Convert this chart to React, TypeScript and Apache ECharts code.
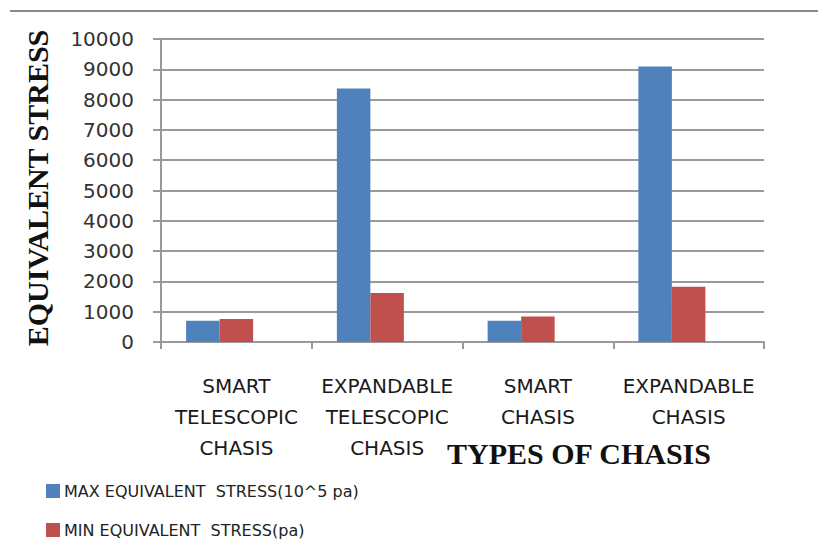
import React, { useEffect, useRef } from "react";
import * as echarts from "echarts";

const categories = [
  "SMART\nTELESCOPIC\nCHASIS",
  "EXPANDABLE\nTELESCOPIC\nCHASIS",
  "SMART\nCHASIS",
  "EXPANDABLE\nCHASIS",
];
const maxStress = [700, 8370, 700, 9090];
const minStress = [760, 1620, 840, 1820];
const emptySlot = [null, null, null, null];
const seriesNames = ["MAX EQUIVALENT  STRESS(10^5 pa)", "MIN EQUIVALENT  STRESS(pa)"];
const yTitle = "EQUIVALENT STRESS";
const xTitle = "TYPES OF CHASIS";

export default function App() {
  const ref = useRef<HTMLDivElement>(null);
  useEffect(() => {
    if (!ref.current) return;
    const chart = echarts.init(ref.current, null, { renderer: "svg" });
    const gridColor = "#9a9a9a";
    chart.setOption({
      animation: false,
      backgroundColor: "#ffffff",
      grid: { left: 161, right: 54, top: 39, bottom: 205, containLabel: false },
      legend: {
        orient: "vertical",
        left: 46,
        top: 483,
        padding: 0,
        itemWidth: 14,
        itemHeight: 14,
        itemGap: 23,
        icon: "rect",
        data: seriesNames,
        textStyle: { fontFamily: "DejaVu Sans", fontSize: 16, color: "#222", padding: [0, 0, 0, -1] },
      },
      xAxis: {
        type: "category",
        data: categories,
        axisLine: { lineStyle: { color: gridColor, width: 2 } },
        axisTick: { show: true, length: 7, lineStyle: { color: gridColor, width: 2 } },
        axisLabel: {
          margin: 28,
          fontFamily: "DejaVu Sans",
          fontSize: 20,
          lineHeight: 31,
          color: "#1a1a1a",
          interval: 0,
        },
      },
      yAxis: {
        type: "value",
        min: 0,
        max: 10000,
        interval: 1000,
        axisLine: { show: true, lineStyle: { color: gridColor, width: 2 } },
        axisTick: { show: true, length: 8, lineStyle: { color: gridColor, width: 2 } },
        splitLine: { show: true, lineStyle: { color: gridColor, width: 2 } },
        axisLabel: {
          margin: 27,
          fontFamily: "DejaVu Sans",
          fontSize: 20,
          color: "#333",
          formatter: (v: number) => String(v),
        },
      },
      series: [
        {
          name: seriesNames[0],
          type: "bar",
          data: maxStress,
          barWidth: 33.5,
          barGap: "0%",
          itemStyle: { color: "#4F81BD" },
        },
        {
          name: seriesNames[1],
          type: "bar",
          data: minStress,
          barWidth: 33.5,
          barGap: "0%",
          itemStyle: { color: "#C0504D" },
        },
        {
          name: "",
          type: "bar",
          data: emptySlot,
          barWidth: 33.5,
          barGap: "0%",
          itemStyle: { color: "#9BBB59" },
        },
      ],
      graphic: [
        {
          type: "line",
          shape: { x1: 10, y1: 11, x2: 818, y2: 11 },
          style: { stroke: "#8a8a8a", lineWidth: 2 },
        },
        {
          type: "text",
          x: 37,
          y: 188,
          rotation: Math.PI / 2,
          style: {
            text: yTitle,
            fontFamily: "Liberation Serif",
            fontWeight: "bold",
            fontSize: 30,
            fill: "#111",
            align: "center",
            verticalAlign: "middle",
          },
        },
        {
          type: "text",
          x: 447,
          y: 453,
          style: {
            text: xTitle,
            fontFamily: "Liberation Serif",
            fontWeight: "bold",
            fontSize: 30,
            fill: "#111",
            align: "left",
            verticalAlign: "middle",
          },
        },
      ],
    });
    return () => chart.dispose();
  }, []);
  return (
    <div
      ref={ref}
      style={{ position: "fixed", left: 0, top: 0, width: 818, height: 547 }}
    />
  );
}
